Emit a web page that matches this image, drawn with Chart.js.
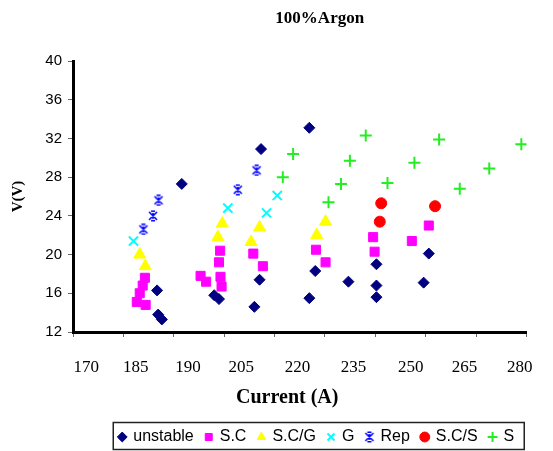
<!DOCTYPE html>
<html>
<head>
<meta charset="utf-8">
<script src="https://cdn.jsdelivr.net/npm/chart.js@4/dist/chart.umd.min.js"></script>
<style>
  html, body { margin: 0; padding: 0; background: #ffffff; }
  #c { display: block; }
</style>
</head>
<body>
<canvas id="c" width="553" height="451"></canvas>
<script>
// ---- data ----
const seriesNames = ['unstable', 'S.C', 'S.C/G', 'G', 'Rep', 'S.C/S', 'S'];

const unstableCurrent = [188.3, 181.6, 181.9, 182.9, 197.1, 198.4, 209.8, 209.4, 208.0, 222.9, 224.5, 222.9, 233.5, 241.1, 241.1, 241.1, 255.3, 253.9];
const unstableVoltage = [27.3, 16.3, 13.8, 13.3, 15.8, 15.4, 30.9, 17.4, 14.6, 33.1, 18.3, 15.5, 17.2, 19.0, 16.8, 15.6, 20.1, 17.1];

const scCurrent = [178.3, 177.7, 176.9, 176.1, 178.5, 198.7, 198.4, 198.8, 199.1, 193.4, 194.9, 207.7, 210.3, 224.7, 227.3, 240.2, 240.6, 255.3, 250.7];
const scVoltage = [17.6, 16.8, 16.0, 15.1, 14.8, 20.4, 19.2, 17.7, 16.7, 17.8, 17.2, 20.1, 18.8, 20.5, 19.2, 21.8, 20.3, 23.0, 21.4];

const scgCurrent = [176.9, 178.4, 199.3, 198.1, 209.4, 207.1, 227.3, 224.9];
const scgVoltage = [20.0, 18.8, 23.2, 21.8, 22.8, 21.3, 23.4, 22.0];

const gCurrent = [175.2, 200.8, 211.3, 214.2];
const gVoltage = [21.4, 24.8, 24.3, 26.1];

const repCurrent = [177.9, 180.5, 182.0, 203.5, 208.6];
const repVoltage = [22.6, 24.0, 25.6, 26.7, 28.7];

const scsCurrent = [242.4, 242.0, 257.0];
const scsVoltage = [25.3, 23.4, 25.0];

const sCurrent = [215.7, 218.5, 228.1, 231.5, 233.9, 238.2, 244.1, 251.4, 258.1, 263.7, 271.7, 280.4];
const sVoltage = [28.0, 30.4, 25.4, 27.3, 29.7, 32.3, 27.4, 29.5, 31.9, 26.8, 28.9, 31.4];

// axis labels as printed on the reference
const xTickLabels = ['170', '185', '190', '205', '220', '235', '250', '265', '280'];
const xTickValues = [162.4, 175.8, 190, 204.4, 219.7, 234.9, 250.4, 265, 280];
const yMin = 12, yMax = 40, yStep = 4;
const xMin = 158.8, xMax = 281.8;

// ---- helpers ----
const pts = (xs, ys) => xs.map((x, i) => ({ x: x, y: ys[i] }));

function makeRepMarker() {
  const c = document.createElement('canvas');
  c.width = 12; c.height = 12;
  const g = c.getContext('2d');
  g.strokeStyle = '#0000FF';
  g.lineWidth = 1.6;
  g.beginPath();
  g.moveTo(2, 2); g.lineTo(10, 10);
  g.moveTo(10, 2); g.lineTo(2, 10);
  g.moveTo(4, 1.3); g.lineTo(8, 1.3);
  g.moveTo(4, 10.7); g.lineTo(8, 10.7);
  g.moveTo(6, 3); g.lineTo(6, 9);
  g.stroke();
  return c;
}
const repMarker = makeRepMarker();

const serif = "'Liberation Serif', 'Times New Roman', serif";
const sans = "'Liberation Sans', Arial, sans-serif";

const LEGEND_SHIFT = 17;
const TITLE_SHIFT = 20;

const shiftBoxes = {
  id: 'shiftBoxes',
  afterUpdate(chart) {
    const lg = chart.legend;
    if (lg) {
      lg.left += LEGEND_SHIFT; lg.right += LEGEND_SHIFT;
      (lg.legendHitBoxes || []).forEach(h => { h.left += LEGEND_SHIFT; });
    }
    const tb = chart.titleBlock;
    if (tb) { tb.left += TITLE_SHIFT; tb.right += TITLE_SHIFT; }
  }
};

const legendBorder = {
  id: 'legendBorder',
  afterDraw(chart) {
    const lg = chart.legend;
    if (!lg || !lg.legendHitBoxes || !lg.legendHitBoxes.length) return;
    const hb = lg.legendHitBoxes;
    const first = hb[0], last = hb[hb.length - 1];
    const cy = first.top + first.height / 2;
    const l = first.left - 6, r = last.left + last.width + 10;
    const ctx = chart.ctx;
    ctx.save();
    ctx.strokeStyle = '#222';
    ctx.lineWidth = 1.5;
    ctx.strokeRect(l, cy - 14.5, r - l, 27);
    ctx.restore();
  }
};

new Chart(document.getElementById('c'), {
  type: 'scatter',
  data: {
    datasets: [
      { label: seriesNames[0], data: pts(unstableCurrent, unstableVoltage), pointStyle: 'rectRot', pointRadius: 5.5,
        backgroundColor: '#000080', borderColor: '#000080', borderWidth: 1 },
      { label: seriesNames[1], data: pts(scCurrent, scVoltage), pointStyle: 'rect', pointRadius: 6.4,
        backgroundColor: '#FF00FF', borderColor: '#FF00FF', borderWidth: 1 },
      { label: seriesNames[2], data: pts(scgCurrent, scgVoltage), pointStyle: 'triangle', pointRadius: 7,
        backgroundColor: '#FFFF00', borderColor: '#FFFF00', borderWidth: 1 },
      { label: seriesNames[3], data: pts(gCurrent, gVoltage), pointStyle: 'crossRot', pointRadius: 6.5,
        backgroundColor: '#00FFFF', borderColor: '#00FFFF', borderWidth: 2 },
      { label: seriesNames[4], data: pts(repCurrent, repVoltage), pointStyle: repMarker, pointRadius: 6,
        backgroundColor: '#0000FF', borderColor: '#0000FF', borderWidth: 2 },
      { label: seriesNames[5], data: pts(scsCurrent, scsVoltage), pointStyle: 'circle', pointRadius: 5.5,
        backgroundColor: '#FF0000', borderColor: '#FF0000', borderWidth: 1 },
      { label: seriesNames[6], data: pts(sCurrent, sVoltage), pointStyle: 'cross', pointRadius: 6,
        backgroundColor: '#22EE22', borderColor: '#22EE22', borderWidth: 2 }
    ].map(d => Object.assign(d, { xAxisID: 'x', yAxisID: 'y', pointHoverRadius: d.pointRadius }))
  },
  options: {
    responsive: false,
    devicePixelRatio: 1,
    animation: false,
    events: [],
    layout: { padding: { top: 0, left: 0, right: 11, bottom: -4 } },
    scales: {
      x: {
        type: 'linear', axis: 'x', position: 'bottom', weight: 0,
        min: xMin, max: xMax, bounds: 'data',
        afterBuildTicks: s => { s.ticks = Array.from({ length: 10 }, (_, i) => ({ value: xMin + i * (xMax - xMin) / 9 })); },
        afterFit: s => { s.height = 5; },
        ticks: { display: false },
        grid: { drawOnChartArea: false, drawTicks: true, tickLength: 5, color: '#666', lineWidth: 1 },
        border: { display: true, color: '#000', width: 3 }
      },
      xl: {
        type: 'linear', axis: 'x', position: 'bottom', weight: 1,
        min: xMin, max: xMax, bounds: 'data',
        afterBuildTicks: s => { s.ticks = xTickValues.map(v => ({ value: v })); },
        afterFit: s => { s.height = 80; },
        ticks: {
          autoSkip: false, maxRotation: 0, minRotation: 0, padding: 20,
          color: '#000', font: { family: serif, size: 17 },
          callback: (v, i) => xTickLabels[i]
        },
        grid: { display: false, drawTicks: false },
        border: { display: false },
        title: { display: true, text: 'Current (A)     ', color: '#000',
          font: { family: serif, size: 20, weight: 'bold' }, padding: { top: 0, bottom: 7 } }
      },
      y: {
        type: 'linear', position: 'left',
        min: yMin, max: yMax,
        afterFit: s => { s.width = 73; },
        ticks: { stepSize: yStep, padding: 6, color: '#000', font: { family: sans, size: 15 } },
        grid: { drawOnChartArea: false, drawTicks: true, tickLength: 5, color: '#666', lineWidth: 1 },
        border: { display: true, color: '#000', width: 3 },
        title: { display: true, text: 'V(V)', color: '#000',
          font: { family: serif, size: 15, weight: 'bold' }, padding: { top: 9.5, bottom: 0 } }
      }
    },
    plugins: {
      tooltip: { enabled: false },
      title: {
        display: true, text: '100%Argon', fullSize: false, color: '#000',
        font: { family: serif, size: 17, weight: 'bold' },
        padding: { top: 8.8, bottom: 31.8 }
      },
      legend: {
        display: true, position: 'bottom', fullSize: false,
        labels: {
          usePointStyle: true, boxWidth: 6, boxHeight: 7, padding: 12,
          color: '#000', font: { family: sans, size: 16 }
        }
      }
    }
  },
  plugins: [shiftBoxes, legendBorder]
});
</script>
</body>
</html>
